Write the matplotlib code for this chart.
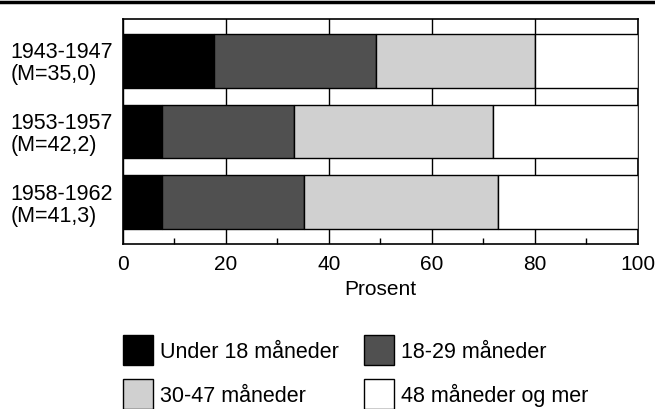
import matplotlib
matplotlib.use("Agg")
import matplotlib.pyplot as plt
from matplotlib.lines import Line2D
from matplotlib.patches import Rectangle
from matplotlib.ticker import MultipleLocator

plt.rcParams["font.family"] = ["Liberation Sans", "DejaVu Sans"]

# kohorter og andel (prosent) i hver aldersgruppe
cohorts = ["1943-1947\n(M=35,0)", "1953-1957\n(M=42,2)", "1958-1962\n(M=41,3)"]
under_18 = [17.6, 7.6, 7.6]
m18_29 = [31.6, 25.7, 27.5]
m30_47 = [30.9, 38.7, 37.7]
m48_plus = [19.9, 28.0, 27.2]

names = ["Under 18 måneder", "18-29 måneder", "30-47 måneder", "48 måneder og mer"]
values = [under_18, m18_29, m30_47, m48_plus]
colors = ["#000000", "#505050", "#d0d0d0", "#ffffff"]

W, H = 655, 409
fig = plt.figure(figsize=(W / 100, H / 100), dpi=100)
ax = fig.add_axes([123 / W, 1 - 244 / H, (637.5 - 123) / W, (244 - 19) / H])

ypos = list(range(len(cohorts)))
left = [0.0] * len(cohorts)
for name, vals, color in zip(names, values, colors):
    ax.barh(ypos, vals, left=left, height=0.76, color=color,
            edgecolor="black", linewidth=1.0, label=name, zorder=3)
    left = [a + b for a, b in zip(left, vals)]

ax.set_xlim(0, 100)
ax.set_ylim(2.59, -0.59)
ax.xaxis.set_major_locator(MultipleLocator(20))
ax.xaxis.set_minor_locator(MultipleLocator(10))
ax.grid(axis="x", which="major", color="black", linewidth=1.0, zorder=0)
ax.tick_params(axis="x", which="major", direction="in", length=0, pad=8,
               labelsize=15)
ax.tick_params(axis="x", which="minor", direction="in", length=4, width=1)
ax.set_xlabel("Prosent", fontsize=15, labelpad=4)

ax.set_yticks(ypos)
ax.set_yticklabels(cohorts, fontsize=15.5, ha="left")
ax.tick_params(axis="y", length=0, pad=81)
for lab in ax.get_yticklabels():
    lab.set_linespacing(1.05)

for sp in ax.spines.values():
    sp.set_linewidth(1.2)

# legend boxes, laid out in two rows of two (pixel positions)
legend_slots = [(122.5, 335), (364, 335), (122.5, 379), (364, 379)]
for (x, y), name, color in zip(legend_slots, names, colors):
    fig.add_artist(Rectangle((x / W, 1 - (y + 30) / H), 30 / W, 30 / H,
                             transform=fig.transFigure, facecolor=color,
                             edgecolor="black", linewidth=1.0))
    fig.text((x + 37) / W, 1 - (y + 23) / H, name, fontsize=15.5,
             ha="left", va="baseline")

# heavy rule along the top of the page
fig.add_artist(Line2D([0, 1], [0.996, 0.996], color="black", linewidth=2.5))

fig.savefig("out.png", dpi=100)
